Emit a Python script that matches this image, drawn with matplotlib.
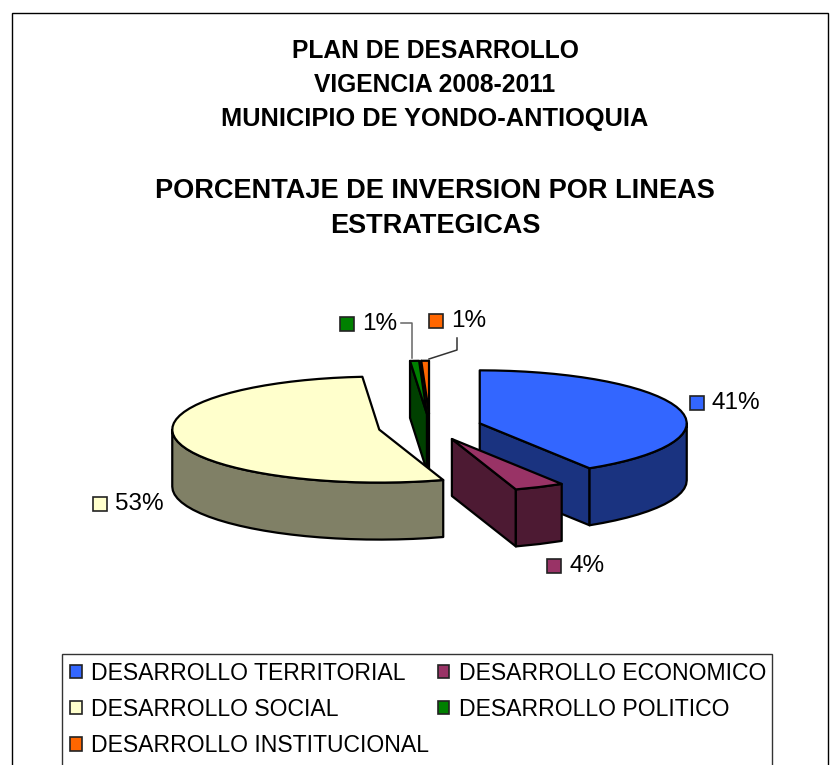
import numpy as np
import matplotlib
matplotlib.use("Agg")
import matplotlib.pyplot as plt
from matplotlib.patches import Patch, Polygon, Rectangle

plt.rcParams['font.family'] = ['Liberation Sans', 'DejaVu Sans']

categories = ["DESARROLLO TERRITORIAL", "DESARROLLO ECONOMICO", "DESARROLLO SOCIAL",
              "DESARROLLO POLITICO", "DESARROLLO INSTITUCIONAL"]
values = [41.1, 3.9, 53.7, 0.7, 0.6]
value_labels = ["41%", "4%", "53%", "1%", "1%"]
top_colors = ["#3366FF", "#993366", "#FFFFCC", "#008000", "#FF6600"]
side_colors = ["#1A3380", "#4D1A33", "#808066", "#004000", "#803300"]
label_pos = [(712, 403), (569, 566), (115, 504), (362, 324), (451, 321)]
title_lines = [("PLAN DE DESARROLLO", 51, 17.75), ("VIGENCIA 2008-2011", 85, 17.75),
               ("MUNICIPIO DE YONDO-ANTIOQUIA", 119, 18.25),
               ("PORCENTAJE DE INVERSION POR LINEAS", 191, 19.5), ("ESTRATEGICAS", 226, 19.5)]

CX, CY, RX, RY, DEPTH, EXPLODE = 430, 427, 207, 53, 57, 0.25

fig = plt.figure(figsize=(8.4, 7.65), dpi=100)
ax = fig.add_axes([0, 0, 1, 1])
ax.set_xlim(0, 840)
ax.set_ylim(765, 0)
ax.axis("off")

ax.add_patch(Rectangle((12, 12.5), 815.5, 800, fc="white", ec="black", lw=1, zorder=0))

frac = np.array(values) / sum(values) * 360
ends = np.cumsum(frac)
starts = ends - frac


def pt(t, apex):
    r = np.radians(t)
    return apex[0] + RX * np.sin(r), apex[1] - RY * np.cos(r)


def poly(xy, fc, z):
    ax.add_patch(Polygon(xy, closed=True, fc=fc, ec="black", lw=1.6, joinstyle="round", zorder=z))


order = [4, 3, 2, 0, 1]
for z, i in enumerate(order):
    t0, t1 = starts[i], ends[i]
    mid = np.radians((t0 + t1) / 2)
    apex = (CX + EXPLODE * RX * np.sin(mid), CY - EXPLODE * RY * np.cos(mid))
    ts = np.linspace(t0, t1, max(3, int(frac[i] / 4)))
    arc = [pt(t, apex) for t in ts]
    base = 2 + z * 5
    # radial side faces
    for t, vis in ((t0, np.sin(np.radians(t0)) < -1e-6), (t1, np.sin(np.radians(t1)) > 1e-6)):
        if vis:
            p = pt(t, apex)
            poly([apex, p, (p[0], p[1] + DEPTH), (apex[0], apex[1] + DEPTH)], side_colors[i], base)
    # outer rim (front half only)
    a, b = max(t0, 90), min(t1, 270)
    if b > a:
        rim = [pt(t, apex) for t in np.linspace(a, b, max(3, int((b - a) / 4)))]
        poly(rim + [(x, y + DEPTH) for x, y in rim[::-1]], side_colors[i], base + 1)
    poly([apex] + arc, top_colors[i], base + 2)

# leader lines
ax.plot([401, 412, 412], [323, 323, 358], color="#666666", lw=1.1, zorder=40)
ax.plot([457, 457, 429], [338, 350, 359], color="#333333", lw=1.1, zorder=40)

# data labels
for (x, y), s, c in zip(label_pos, value_labels, top_colors):
    ax.add_patch(Rectangle((x - 22, y - 7.5), 14, 14, fc=c, ec="#222222", lw=1.2, zorder=41))
    ax.text(x, y, s, fontsize=17.5, va="center", ha="left", color="black", zorder=42)

# titles
for s, y, fs in title_lines:
    ax.text(435, y, s, fontsize=fs, fontweight="bold", ha="center", va="center", color="black")

# legend box, then legend entries (filled column by column)
ax.add_patch(Rectangle((61.5, 653.5), 710, 160, fc="white", ec="#333333", lw=1, zorder=49))
leg_order = [0, 2, 4, 1, 3]
handles = [Patch(fc=top_colors[i], ec="#222222", lw=1.2, label=categories[i]) for i in leg_order]
leg = ax.legend(handles=handles, ncol=2, loc="upper left", bbox_to_anchor=(61 / 840, 1 - 653 / 765),
                frameon=False, fontsize=16.6,
                handlelength=0.52, handleheight=0.52, handletextpad=0.42, columnspacing=0.35,
                labelspacing=0.57, borderpad=0.38, borderaxespad=0)
leg.set_zorder(50)

fig.savefig("out.png", dpi=100)
